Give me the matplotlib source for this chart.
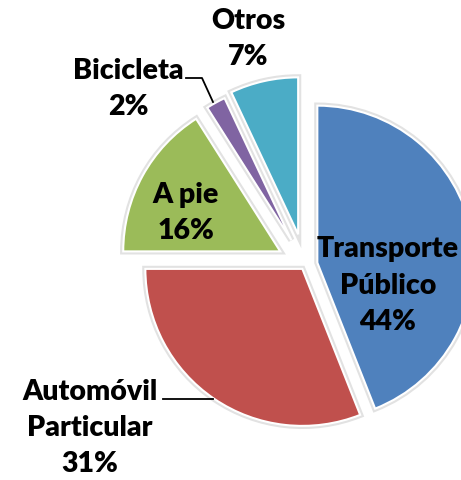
import matplotlib.pyplot as plt
import matplotlib.patheffects as pe

# raw data
modos = ["Transporte\nPúblico", "Automóvil\nParticular", "A pie", "Bicicleta", "Otros"]
porcentajes = [44, 31, 16, 2, 7]
colores = ["#4F81BD", "#C0504D", "#9BBB59", "#8064A2", "#4BACC6"]
separacion = [0.08, 0.03, 0.18, 0.18, 0.2]

W, H = 461, 480
R = 157.0          # pie radius in pixels
CX, CY = 305, 265  # pie centre in pixels (from top-left)


def px(x, y):
    # pixel position -> data coords (pie radius = 1)
    return (x - CX) / R, (CY - y) / R


fig = plt.figure(figsize=(W / 100, H / 100), dpi=100)
ax = fig.add_axes([0, 0, 1, 1])

wedges, _ = ax.pie(porcentajes, colors=colores, explode=separacion,
                   startangle=90, counterclock=False, radius=1,
                   wedgeprops=dict(edgecolor="white", linewidth=1.5,
                                   path_effects=[pe.withStroke(linewidth=4.5, foreground="#e2e2e2")]))

ax.set_xlim(-CX / R, (W - CX) / R)
ax.set_ylim((CY - H) / R, CY / R)
ax.set_aspect("equal")
ax.axis("off")

fuente = dict(family="Lato", fontweight="heavy", fontsize=20.5, ha="center", va="center",
              linespacing=1.5, color="black")

pos_etiquetas = [(388, 286), (90, 428), (186, 213), (128, 89), (248, 39)]
for nombre, pct, (x, y) in zip(modos, porcentajes, pos_etiquetas):
    ax.text(*px(x, y), f"{nombre}\n{pct}%", **fuente)

# leader lines
bx, by = zip(px(186, 78), px(202, 78), px(213, 102))
ax.plot(bx, by, color="black", lw=1.3)
ax.plot(*zip(px(163, 399), px(213, 399)), color="black", lw=1.3)

plt.savefig("out.png", dpi=100)
